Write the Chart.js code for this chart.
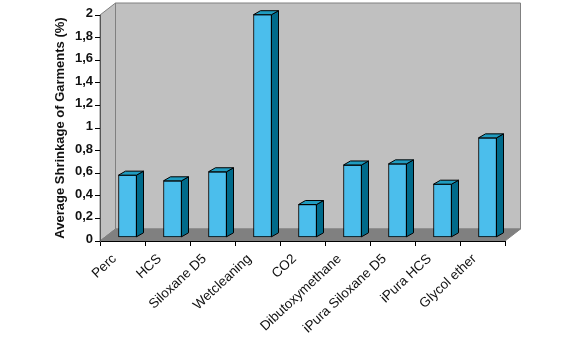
<!DOCTYPE html>
<html>
<head>
<meta charset="utf-8">
<script src="https://cdn.jsdelivr.net/npm/chart.js@4"></script>
<style>
  body { margin: 0; background: #fff; }
</style>
</head>
<body>
<canvas id="shrinkageChart" width="566" height="357"></canvas>
<script>
// Data for the chart
const categories = ["Perc", "HCS", "Siloxane D5", "Wetcleaning", "CO2", "Dibutoxymethane", "iPura Siloxane D5", "iPura HCS", "Glycol ether"];
const shrinkage = [0.55, 0.5, 0.58, 1.97, 0.29, 0.64, 0.65, 0.47, 0.88];
const yTickLabels = ["0", "0,2", "0,4", "0,6", "0,8", "1", "1,2", "1,4", "1,6", "1,8", "2"];

// Fake 3D: back wall offset and bar depth
const wallDx = 15.5, wallDy = 12;
const barShiftX = 5, barShiftY = 3.7;
const depthX = 7, depthY = 4;

function poly(ctx, pts, fill, stroke) {
  ctx.beginPath();
  pts.forEach((p, i) => i ? ctx.lineTo(p[0], p[1]) : ctx.moveTo(p[0], p[1]));
  ctx.closePath();
  ctx.fillStyle = fill;
  ctx.fill();
  if (stroke) {
    ctx.strokeStyle = stroke;
    ctx.lineWidth = 1;
    ctx.stroke();
  }
}

const box3d = {
  id: 'box3d',
  beforeDraw(chart) {
    const { ctx, chartArea: a } = chart;
    const l = a.left, r = a.right, t = a.top, b = a.bottom;
    ctx.save();
    poly(ctx, [[l + wallDx, t - wallDy], [r + wallDx, t - wallDy], [r + wallDx, b - wallDy], [l + wallDx, b - wallDy]], '#c0c0c0', '#808080');
    poly(ctx, [[l, t], [l + wallDx, t - wallDy], [l + wallDx, b - wallDy], [l, b]], '#c0c0c0', '#808080');
    poly(ctx, [[l, b], [l + wallDx, b - wallDy], [r + wallDx, b - wallDy], [r, b]], '#808080', '#808080');
    ctx.restore();
  },
  beforeDatasetsDraw(chart) {
    chart.ctx.save();
    chart.ctx.translate(barShiftX, -barShiftY);
  },
  afterDatasetsDraw(chart) {
    const ctx = chart.ctx;
    chart.getDatasetMeta(0).data.forEach(bar => {
      const p = bar.getProps(['x', 'y', 'base', 'width'], true);
      const x0 = p.x - p.width / 2, x1 = p.x + p.width / 2;
      poly(ctx, [[x1, p.y], [x1 + depthX, p.y - depthY], [x1 + depthX, p.base - depthY], [x1, p.base]], '#006a8a', '#000');
      poly(ctx, [[x0, p.y], [x0 + depthX, p.y - depthY], [x1 + depthX, p.y - depthY], [x1, p.y]], '#1f9cc0', '#000');
    });
    ctx.restore();
  }
};

// Create the chart
new Chart(document.getElementById('shrinkageChart'), {
  type: 'bar',
  data: {
    labels: categories,
    datasets: [{
      data: shrinkage,
      backgroundColor: '#4bbeec',
      borderColor: '#000',
      borderWidth: 1,
      borderSkipped: false,
      barThickness: 18,
      clip: false
    }]
  },
  plugins: [box3d],
  options: {
    responsive: false,
    animation: false,
    layout: { padding: { left: 53, right: 61, top: 15, bottom: 0 } },
    plugins: { legend: { display: false }, tooltip: { enabled: false } },
    scales: {
      x: {
        afterFit(s) { s.height = 116; },
        border: { color: '#000', width: 1 },
        grid: { offset: true, drawOnChartArea: false, color: '#000', tickLength: 5 },
        ticks: {
          color: '#111',
          maxRotation: 43,
          minRotation: 43,
          autoSkip: false,
          padding: 5,
          labelOffset: -8,
          font: { family: 'Liberation Sans', size: 13.5 }
        }
      },
      y: {
        min: 0,
        max: 2,
        afterFit(s) { s.width = 47; },
        border: { color: '#555', width: 1 },
        grid: { drawOnChartArea: false, color: '#000', tickLength: 5 },
        title: {
          display: true,
          text: 'Average Shrinkage of Garments (%)',
          color: '#111',
          padding: 0,
          font: { family: 'Liberation Sans', size: 13, weight: 'bold' }
        },
        ticks: {
          stepSize: 0.2,
          color: '#111',
          padding: 2,
          labelOffset: -1.5,
          callback: (v, i) => yTickLabels[i],
          font: { family: 'Liberation Sans', size: 13, weight: 'bold' }
        }
      }
    }
  }
});
</script>
</body>
</html>
